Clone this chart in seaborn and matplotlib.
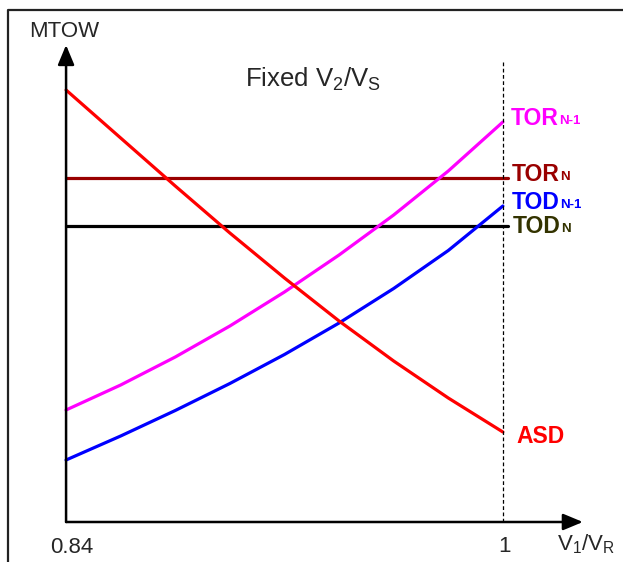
import numpy as np
import pandas as pd
import matplotlib
matplotlib.use('Agg')
import matplotlib.pyplot as plt
from matplotlib.lines import Line2D
import seaborn as sns

# values (MTOW in arbitrary units)
v1_ratio = [0.84, 0.86, 0.88, 0.90, 0.92, 0.94, 0.96, 0.98, 1.00]
asd = [4.32, 3.84, 3.36, 2.89, 2.44, 2.01, 1.61, 1.24, 0.90]
tor_n1 = [1.12, 1.37, 1.65, 1.96, 2.30, 2.67, 3.07, 3.51, 4.00]
tod_n1 = [0.62, 0.86, 1.115, 1.385, 1.675, 1.99, 2.335, 2.715, 3.16]
flat_x = [0.84, 1.002]
tor_n = [3.44, 3.44]
tod_n = [2.96, 2.96]

curveColors = {
    'ASD': '#FF0000',
    'TOR_N-1': '#FF00FF',
    'TOD_N-1': '#0000FF',
    'TOR_N': '#990000',
    'TOD_N': '#000000',
}

rows = []
for name, xs, ys in [('TOR_N', flat_x, tor_n), ('TOD_N', flat_x, tod_n),
                     ('TOR_N-1', v1_ratio, tor_n1), ('TOD_N-1', v1_ratio, tod_n1),
                     ('ASD', v1_ratio, asd)]:
    for x, y in zip(xs, ys):
        rows.append({'x': x, 'mtow': y, 'curve': name})
df = pd.DataFrame(rows)

sns.set_style('white')
plt.rcParams['font.family'] = ['Liberation Sans', 'DejaVu Sans']
plt.rcParams['mathtext.default'] = 'regular'

W, H = 623, 562
fig = plt.figure(figsize=(W / 100, H / 100), dpi=100)
ax = fig.add_axes([0, 0, 1, 1])
ax.set_xlim(0.8158, 1.0440)
ax.set_ylim(-0.40, 5.22)
ax.axis('off')

def px(x, y):
    return x / W, 1 - y / H

# outer frame (left and top edges)
fig.add_artist(Line2D([8 / W, 8 / W, 1], [0, 1 - 10 / H, 1 - 10 / H],
                      color='#222222', lw=1.6, transform=fig.transFigure))

sns.lineplot(data=df, x='x', y='mtow', hue='curve', palette=curveColors,
             linewidth=2.3, legend=False, ax=ax, sort=False, estimator=None)

# dashed reference at V1/VR = 1
ax.plot([1.0, 1.0], [0, 4.60], color='black', lw=0.9, ls=(0, (3, 2)))

# axes with arrows
arrowStyle = dict(arrowstyle='-|>,head_length=0.6,head_width=0.25', lw=1.8,
                  color='black', mutation_scale=20, shrinkA=0, shrinkB=0)
ax.annotate('', xy=(0.84, 4.77), xytext=(0.84, 0), arrowprops=arrowStyle)
ax.annotate('', xy=(1.0293, 0), xytext=(0.84, 0), arrowprops=arrowStyle)

ax.text(*px(64, 37), 'MTOW', transform=ax.transAxes, ha='center', va='baseline',
        fontsize=16)
ax.text(*px(72, 553), '0.84', transform=ax.transAxes, ha='center', va='baseline',
        fontsize=16)
ax.text(*px(505, 552), '1', transform=ax.transAxes, ha='center', va='baseline',
        fontsize=16)
ax.text(*px(557, 550), r'V$_1$/V$_R$', transform=ax.transAxes, ha='left',
        va='baseline', fontsize=16)
ax.text(*px(245, 87), r'Fixed V$_2$/V$_S$', transform=ax.transAxes, ha='left',
        va='baseline', fontsize=18.5)

# curve labels with small suffix on the same baseline
labels = [('TOR', 'N-1', 511, 125, '#FF00FF'),
          ('TOR', 'N', 512, 181, '#990000'),
          ('TOD', 'N-1', 512, 209, '#0000FF'),
          ('TOD', 'N', 513, 233, '#333300'),
          ('ASD', '', 516, 443, '#FF0000')]
for main, sub, lx, ly, col in labels:
    t = ax.text(*px(lx, ly), main, transform=ax.transAxes, ha='left',
                va='baseline', fontsize=16.5, fontweight='bold', color=col)
    if sub:
        ax.annotate(sub, xy=(1, 0), xycoords=t, xytext=(0.5, 2.0),
                    textcoords='offset points', ha='left', va='bottom',
                    fontsize=9.5, fontweight='bold', color=col)

fig.savefig('out.png', dpi=100)
